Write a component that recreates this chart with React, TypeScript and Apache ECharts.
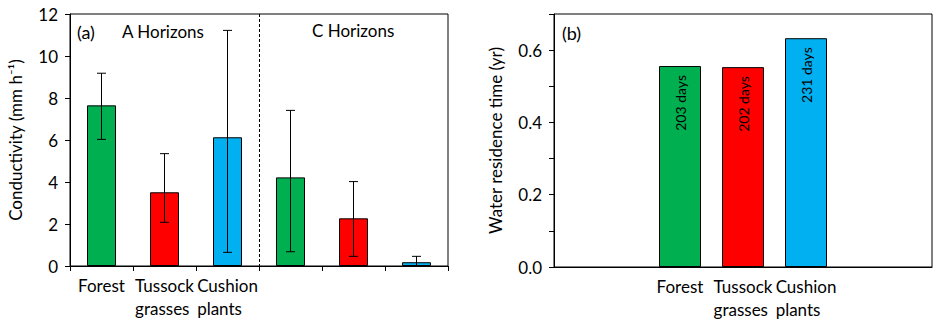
import React, { useEffect, useRef } from "react";
import * as echarts from "echarts";

// ---- data ----
const vegetation = ["Forest", "Tussock grasses", "Cushion plants"];
const vegColors = ["#00B050", "#FF0000", "#00B0F0"];
const conductivityA = [7.65, 3.51, 6.13];
const conductivityC = [4.22, 2.27, 0.18];
const errLowA = [6.03, 2.08, 0.65];
const errHighA = [9.18, 5.35, 11.22];
const errLowC = [0.68, 0.46, 0];
const errHighC = [7.41, 4.02, 0.46];
const residenceYr = [0.556, 0.553, 0.633];
const residenceDays = [203, 202, 231];
const yTicksA = { min: 0, max: 12, interval: 2 };
const yTicksB = { min: 0, max: 0.7, interval: 0.1 };

const FONT = "Lato";

function catLabel(v: string) {
  if (!v) return "";
  return v
    .split(" ")
    .map((w) => `{l|${w}}`)
    .join("\n");
}

export default function App() {
  const ref = useRef<HTMLDivElement>(null);
  useEffect(() => {
    document.body.style.margin = "0";
    const chart = echarts.init(ref.current!, undefined, { renderer: "svg" });

    const leftCats = [...vegetation, ...vegetation.map((v) => "C " + v)];
    const leftVals = [...conductivityA, ...conductivityC];
    const leftLow = [...errLowA, ...errLowC];
    const leftHigh = [...errHighA, ...errHighC];
    const rightCats = ["", "", ...vegetation, "", ""];

    const gl = { left: 70, top: 14, width: 378, height: 252 };
    const gr = { left: 554, top: 14, width: 378, height: 253 };

    chart.setOption({
      animation: false,
      textStyle: { fontFamily: FONT, color: "#000" },
      grid: [
        { ...gl, show: true, borderColor: "#000", borderWidth: 1, containLabel: false },
        { ...gr, show: true, borderColor: "#000", borderWidth: 1, containLabel: false },
      ],
      xAxis: [
        {
          type: "category",
          gridIndex: 0,
          data: leftCats,
          axisLine: { lineStyle: { color: "#000" } },
          axisTick: { show: true, length: 5, lineStyle: { color: "#000" } },
          axisLabel: {
            interval: 0,
            margin: 8,
            fontSize: 17,
            lineHeight: 23,
            color: "#000",
            fontFamily: FONT,
            formatter: (v: string, i: number) => (i < 3 ? catLabel(v) : ""),
            rich: { l: { align: "left", fontSize: 17, fontFamily: FONT, lineHeight: 23 } },
          },
        },
        {
          type: "category",
          gridIndex: 1,
          data: rightCats,
          boundaryGap: false,
          axisLine: { lineStyle: { color: "#000" } },
          axisTick: { show: false },
          axisLabel: {
            interval: 0,
            margin: 8,
            fontSize: 17,
            lineHeight: 23,
            color: "#000",
            fontFamily: FONT,
            formatter: (v: string) => catLabel(v),
            rich: { l: { align: "left", fontSize: 17, fontFamily: FONT, lineHeight: 23 } },
          },
        },
      ],
      yAxis: [
        {
          type: "value",
          gridIndex: 0,
          ...yTicksA,
          name: "Conductivity (mm h\u207B\u00B9)",
          nameLocation: "middle",
          nameGap: 46,
          nameTextStyle: { fontSize: 17, fontFamily: FONT, color: "#000" },
          axisLine: { show: true, lineStyle: { color: "#000" } },
          axisTick: { show: true, length: 5, lineStyle: { color: "#000" } },
          splitLine: { show: false },
          axisLabel: { fontSize: 17, margin: 12, color: "#000", fontFamily: FONT },
        },
        {
          type: "value",
          gridIndex: 1,
          ...yTicksB,
          name: "Water residence time (yr)",
          nameLocation: "middle",
          nameGap: 50,
          nameTextStyle: { fontSize: 17, fontFamily: FONT, color: "#000" },
          axisLine: { show: true, lineStyle: { color: "#000" } },
          axisTick: { show: true, length: 5, lineStyle: { color: "#000" } },
          splitLine: { show: false },
          axisLabel: {
            fontSize: 17,
            margin: 12,
            color: "#000",
            fontFamily: FONT,
            formatter: (v: number) =>
              Math.round(v * 10) % 2 === 0 ? v.toFixed(1) : "",
          },
        },
      ],
      series: [
        {
          type: "bar",
          xAxisIndex: 0,
          yAxisIndex: 0,
          barWidth: 29,
          data: leftVals.map((v, i) => ({
            value: v,
            itemStyle: { color: vegColors[i % 3], borderColor: "#000", borderWidth: 1 },
          })),
        },
        {
          type: "custom",
          xAxisIndex: 0,
          yAxisIndex: 0,
          z: 5,
          data: leftVals.map((_, i) => [i, leftLow[i], leftHigh[i]]),
          renderItem: (params: any, api: any) => {
            const x = api.coord([api.value(0), 0])[0];
            const lo = api.coord([api.value(0), api.value(1)])[1];
            const hi = api.coord([api.value(0), api.value(2)])[1];
            const w = 4.5;
            const st = { stroke: "#000", lineWidth: 1 };
            return {
              type: "group",
              children: [
                { type: "line", shape: { x1: x, y1: lo, x2: x, y2: hi }, style: st },
                { type: "line", shape: { x1: x - w, y1: hi, x2: x + w, y2: hi }, style: st },
                { type: "line", shape: { x1: x - w, y1: lo, x2: x + w, y2: lo }, style: st },
              ],
            };
          },
        },
        {
          type: "bar",
          xAxisIndex: 1,
          yAxisIndex: 1,
          barWidth: 42,
          data: rightCats.map((c) => {
            const k = vegetation.indexOf(c);
            if (!c || k < 0) return null;
            return {
              value: residenceYr[k],
              itemStyle: { color: vegColors[k], borderColor: "#000", borderWidth: 1 },
              label: {
                show: true,
                position: "insideTop",
                rotate: 90,
                align: "right",
                verticalAlign: "middle",
                distance: 9,
                fontSize: 14,
                fontFamily: FONT,
                color: "#000",
                formatter: `${residenceDays[k]} days`,
              },
            };
          }),
        },
      ],
      graphic: [
        {
          type: "line",
          shape: { x1: gl.left + gl.width / 2 + 0.5, y1: gl.top, x2: gl.left + gl.width / 2 + 0.5, y2: gl.top + gl.height },
          style: { stroke: "#000", lineWidth: 1, lineDash: [3, 2] },
        },
        { type: "text", x: 77, y: 32, style: { text: "(a)", fontSize: 18, fontFamily: FONT, fill: "#000", verticalAlign: "middle" } },
        { type: "text", x: 122, y: 31, style: { text: "A Horizons", fontSize: 17, fontFamily: FONT, fill: "#000", verticalAlign: "middle" } },
        { type: "text", x: 312, y: 30, style: { text: "C Horizons", fontSize: 17, fontFamily: FONT, fill: "#000", verticalAlign: "middle" } },
        { type: "text", x: 562, y: 33, style: { text: "(b)", fontSize: 18, fontFamily: FONT, fill: "#000", verticalAlign: "middle" } },
      ],
    });
    return () => chart.dispose();
  }, []);
  return <div ref={ref} style={{ width: 941, height: 323 }} />;
}
